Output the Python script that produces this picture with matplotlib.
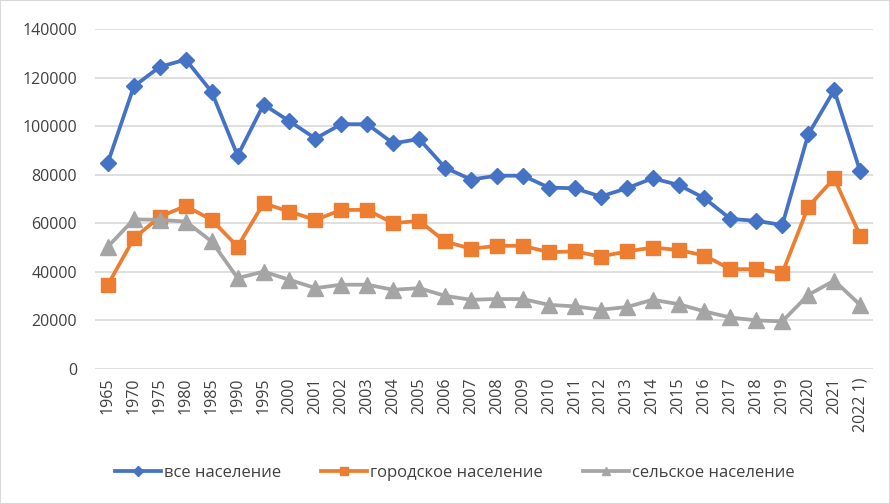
import matplotlib.pyplot as plt
import matplotlib.patches as patches

years = ['1965', '1970', '1975', '1980', '1985', '1990', '1995', '2000', '2001', '2002',
         '2003', '2004', '2005', '2006', '2007', '2008', '2009', '2010', '2011', '2012',
         '2013', '2014', '2015', '2016', '2017', '2018', '2019', '2020', '2021', '2022 1)']

total = [85000, 116400, 124400, 127400, 114100, 87800, 108900, 102000, 94900, 100800,
         100800, 92900, 94700, 82900, 78000, 79600, 79600, 74700, 74400, 71000,
         74400, 78500, 75800, 70300, 61800, 61000, 59300, 96600, 114800, 81500]
urban = [34700, 53800, 62700, 67100, 61400, 50400, 68200, 64800, 61400, 65500,
         65500, 60000, 61000, 52500, 49500, 50700, 50700, 48100, 48400, 46300,
         48400, 50000, 49000, 46700, 41100, 41100, 39500, 66800, 78500, 54900]
rural = [50400, 61600, 61400, 60700, 52500, 37400, 40100, 36700, 33300, 34700,
         34700, 32600, 33300, 30100, 28500, 28800, 28800, 26400, 25800, 24400,
         25500, 28500, 26700, 23700, 21200, 20000, 19600, 30500, 36400, 26400]

labels = ['все население', 'городское население', 'сельское население']
colors = ['#4472C4', '#ED7D31', '#A5A5A5']

plt.rcParams['font.family'] = ['Open Sans', 'DejaVu Sans']

fig = plt.figure(figsize=(8.9, 5.04), dpi=100)
ax = fig.add_axes([0.1067, 0.2679, 0.8743, 0.6746])

x = range(len(years))
ax.plot(x, total, color=colors[0], lw=2.7, marker='D', ms=8.5, label=labels[0])
ax.plot(x, urban, color=colors[1], lw=2.7, marker='s', ms=10.5, label=labels[1])
ax.plot(x, rural, color=colors[2], lw=2.7, marker='^', ms=11, label=labels[2])

ax.set_xlim(-0.5, len(years) - 0.5)
ax.set_ylim(0, 140000)
ax.set_yticks(range(0, 140001, 20000))
ax.set_xticks(list(x))
ax.set_xticklabels(years, rotation=90, fontsize=11.5, color='#404040')
ax.tick_params(axis='y', length=0, pad=13, labelsize=11.5, labelcolor='#404040')
ax.tick_params(axis='x', length=0, pad=6)
ax.grid(axis='y', color='#d9d9d9', lw=1.2)
ax.set_axisbelow(True)
for s in ax.spines.values():
    s.set_visible(False)

fig.legend(loc='center', bbox_to_anchor=(0.511, 0.0615), ncol=3, frameon=False,
           fontsize=12, handlelength=2.75, columnspacing=2.4, handletextpad=0.2,
           markerscale=0.55, labelcolor='#404040')

fig.patches.append(patches.Rectangle((0, 0), 1, 1, transform=fig.transFigure,
                                     fill=False, edgecolor='#d9d9d9', lw=1.5))

fig.savefig('out.png', dpi=100)
